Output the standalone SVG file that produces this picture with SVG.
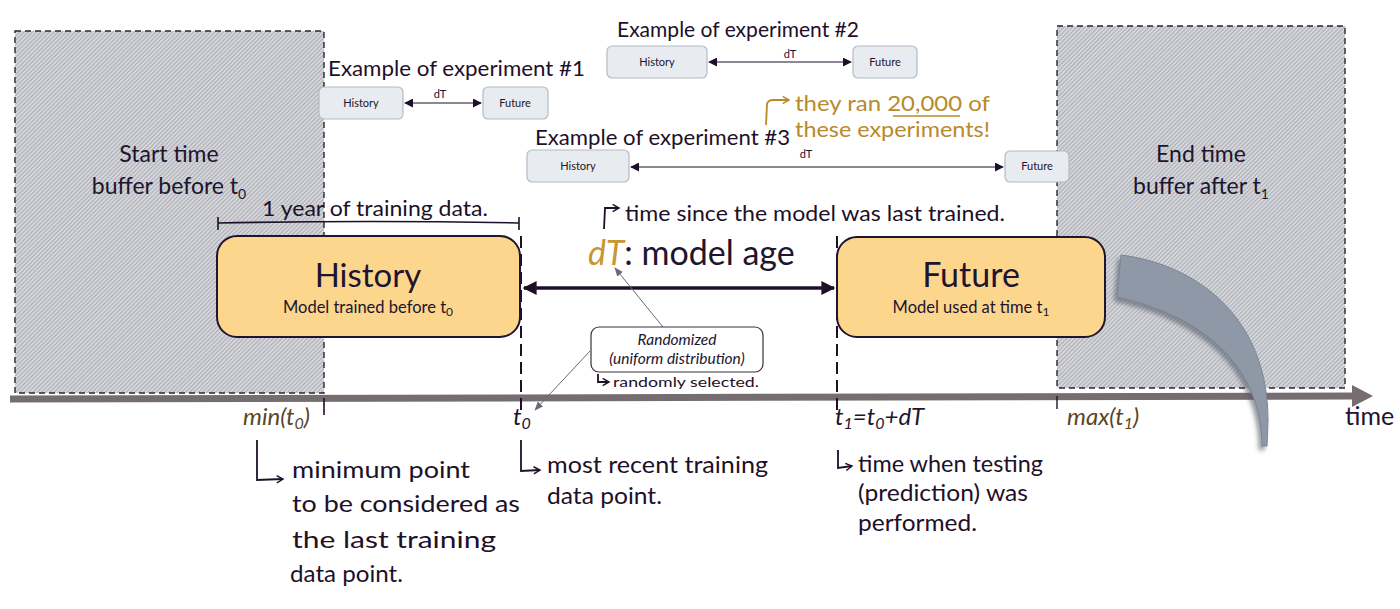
<svg xmlns="http://www.w3.org/2000/svg" width="1400" height="609" viewBox="0 0 1400 609">
<defs>
<pattern id="hatch" width="3" height="3" patternUnits="userSpaceOnUse" patternTransform="rotate(45)">
<rect width="3" height="3" fill="#d9dbdf"/>
<line x1="0.7" y1="0" x2="0.7" y2="3" stroke="#a2a4ac" stroke-width="1"/>
</pattern>
<marker id="ah" viewBox="0 0 10 10" refX="9" refY="5" markerWidth="9" markerHeight="9" markerUnits="userSpaceOnUse" orient="auto-start-reverse">
<path d="M0,0 L10,5 L0,10 Z" fill="#1e1028"/>
</marker>
<marker id="ahBig" viewBox="0 0 10 10" refX="9" refY="5" markerWidth="16" markerHeight="14" markerUnits="userSpaceOnUse" orient="auto-start-reverse">
<path d="M0,0 L10,5 L0,10 Z" fill="#1e1028"/>
</marker>
<marker id="ahThin" viewBox="0 0 10 10" refX="9" refY="5" markerWidth="9" markerHeight="9" markerUnits="userSpaceOnUse" orient="auto">
<path d="M0,1 L10,5 L0,9 Z" fill="#6a6a78"/>
</marker>
<marker id="hookA" viewBox="0 0 10 10" refX="8" refY="5" markerWidth="9" markerHeight="9" markerUnits="userSpaceOnUse" orient="auto">
<path d="M1,1 L8,5 L1,9" fill="none" stroke="#1e1028" stroke-width="1.6"/>
</marker>
<marker id="hookG" viewBox="0 0 10 10" refX="8" refY="5" markerWidth="9" markerHeight="9" markerUnits="userSpaceOnUse" orient="auto">
<path d="M1,1 L8,5 L1,9" fill="none" stroke="#b88a2c" stroke-width="1.6"/>
</marker>
<filter id="shadow" x="-20%" y="-20%" width="140%" height="140%">
<feDropShadow dx="-3" dy="4" stdDeviation="2" flood-color="#555a66" flood-opacity="0.6"/>
</filter>
</defs>
<style>
.buf{fill:url(#hatch);stroke:#2a2530;stroke-width:1.4;stroke-dasharray:6 4}
.big{fill:#fdd68d;stroke:#21142e;stroke-width:2}
.small{fill:#e8ebef;stroke:#b4bcc8;stroke-width:1.2}
.t{font-family:Lato,"Open Sans",sans-serif;fill:#21142e}
.hw{font-family:Lato,"Open Sans",sans-serif;fill:#1e1028}
.gold{font-family:Lato,"Open Sans",sans-serif;fill:#b88a2c}
.dash{stroke:#1e1028;stroke-width:2;stroke-dasharray:12 6;fill:none}
.hook{stroke:#1e1028;stroke-width:1.8;fill:none}
.thin{stroke:#1e1028;stroke-width:1.2;fill:none}
</style>

<g id="buffer-start">
<rect class="buf" x="15" y="31" width="309" height="362"/>
<text class="t" x="169" y="162" font-size="23" text-anchor="middle">Start time</text>
<text class="t" x="169" y="194" font-size="23" text-anchor="middle">buffer before t<tspan font-size="14" dy="5">0</tspan></text>
</g>
<g id="buffer-end">
<rect class="buf" x="1057" y="26" width="288" height="362"/>
<text class="t" x="1201" y="162" font-size="23" text-anchor="middle">End time</text>
<text class="t" x="1201" y="194" font-size="23" text-anchor="middle">buffer after t<tspan font-size="14" dy="5">1</tspan></text>
</g>

<g id="timeline">
<line x1="10" y1="399" x2="1354" y2="396" stroke="#766d71" stroke-width="7"/>
<polygon points="1352,385 1373,396 1352,407" fill="#766d71"/>
<text class="t" x="1345" y="425" font-size="25">time</text>
</g>

<g id="curved-arrow">
<path d="M1121,255 C1200,265 1268,320 1268,420 L1267,446 L1262,446 C1262,380 1220,320 1117,297 Z" fill="#8e98a6" stroke="#7b8494" stroke-width="1" filter="url(#shadow)"/>
</g>

<g id="connectors">
<line class="dash" x1="521" y1="236" x2="521" y2="410"/>
<line class="dash" x1="837" y1="236" x2="837" y2="412"/>
<line x1="324" y1="398" x2="324" y2="415" stroke="#1e1028" stroke-width="1.6"/>
<line x1="1057" y1="396" x2="1057" y2="409" stroke="#1e1028" stroke-width="1.4"/>
<line x1="524" y1="288" x2="834" y2="288" stroke="#1e1028" stroke-width="3.5" marker-start="url(#ahBig)" marker-end="url(#ahBig)"/>
<line x1="663" y1="327" x2="615" y2="268" stroke="#6a6a78" stroke-width="1" marker-end="url(#ahThin)"/>
<line x1="590" y1="351" x2="535" y2="410" stroke="#6a6a78" stroke-width="1" marker-end="url(#ahThin)"/>
<line class="thin" x1="405" y1="103" x2="481" y2="103" marker-start="url(#ah)" marker-end="url(#ah)"/>
<line class="thin" x1="709" y1="62" x2="851" y2="62" marker-start="url(#ah)" marker-end="url(#ah)"/>
<line class="thin" x1="631" y1="167" x2="1003" y2="167" marker-start="url(#ah)" marker-end="url(#ah)"/>
<path d="M218,223 Q370,220 519,223" stroke="#1e1028" stroke-width="1.6" fill="none"/>
<line x1="218" y1="217" x2="218" y2="230" stroke="#1e1028" stroke-width="1.6"/>
<line x1="519" y1="217" x2="519" y2="230" stroke="#1e1028" stroke-width="1.6"/>
<path class="hook" d="M604,229 L605,208 L619,208" marker-end="url(#hookA)"/>
<path class="hook" d="M598,374 L598,382 L609,382" stroke-width="1.4" marker-end="url(#hookA)"/>
<path class="hook" d="M257,440 L257,480 L283,479" marker-end="url(#hookA)"/>
<path class="hook" d="M521,440 L521,471 L540,470" marker-end="url(#hookA)"/>
<path class="hook" d="M838,450 L838,468 L852,466" marker-end="url(#hookA)"/>
<path d="M766,125 L767,104 Q768,100 773,100 L789,100" stroke="#b88a2c" stroke-width="1.8" fill="none" marker-end="url(#hookG)"/>
</g>

<g id="history">
<rect class="big" x="217" y="236" width="303" height="101" rx="20"/>
<text class="t" x="368" y="287" font-size="33" text-anchor="middle">History</text>
<text class="t" x="368" y="313" font-size="16.5" text-anchor="middle">Model trained before t<tspan font-size="12" dy="3">0</tspan></text>
</g>
<g id="future">
<rect class="big" x="837" y="237" width="268" height="100" rx="20"/>
<text class="t" x="971" y="287" font-size="34" text-anchor="middle">Future</text>
<text class="t" x="971" y="313" font-size="16.5" text-anchor="middle">Model used at time t<tspan font-size="12" dy="3">1</tspan></text>
</g>

<g id="model-age">
<text class="t" x="588" y="265" font-size="34"><tspan font-style="italic" fill="#c9962f">dT</tspan>: model age</text>
<text class="hw" x="625" y="221" font-size="21" textLength="380" lengthAdjust="spacingAndGlyphs">time since the model was last trained.</text>
</g>

<g id="randomized">
<rect x="591" y="327" width="172" height="45" rx="8" fill="#ffffff" stroke="#3a3040" stroke-width="1.2"/>
<text class="t" x="677" y="345" font-size="15.5" font-style="italic" text-anchor="middle">Randomized</text>
<text class="t" x="677" y="364" font-size="15.5" font-style="italic" text-anchor="middle">(uniform distribution)</text>
<text class="hw" x="613" y="387" font-size="13" textLength="146" lengthAdjust="spacingAndGlyphs">randomly selected.</text>
</g>

<g id="axis-labels">
<text class="t" x="243" y="425" font-size="24" font-style="italic" style="fill:#5a4628">min(t<tspan font-size="16" dy="4">0</tspan><tspan dy="-4">)</tspan></text>
<text class="t" x="513" y="425" font-size="24" font-style="italic">t<tspan font-size="16" dy="4">0</tspan></text>
<text class="t" x="835" y="425" font-size="24" font-style="italic">t<tspan font-size="16" dy="4">1</tspan><tspan dy="-4">=t</tspan><tspan font-size="16" dy="4">0</tspan><tspan dy="-4">+dT</tspan></text>
<text class="t" x="1067" y="425" font-size="24" font-style="italic" style="fill:#5a4628">max(t<tspan font-size="16" dy="4">1</tspan><tspan dy="-4">)</tspan></text>
</g>

<g id="training-span">
<text class="hw" x="262" y="216" font-size="21" textLength="226" lengthAdjust="spacingAndGlyphs">1 year of training data.</text>
</g>

<g id="note-min">
<text class="hw" x="292" y="478" font-size="23" textLength="178" lengthAdjust="spacingAndGlyphs">minimum point</text>
<text class="hw" x="292" y="512" font-size="23" textLength="228" lengthAdjust="spacingAndGlyphs">to be considered as</text>
<text class="hw" x="292" y="548" font-size="23" textLength="204" lengthAdjust="spacingAndGlyphs">the last training</text>
<text class="hw" x="290" y="582" font-size="23" textLength="113" lengthAdjust="spacingAndGlyphs">data point.</text>
</g>
<g id="note-t0">
<text class="hw" x="547" y="473" font-size="23" textLength="221" lengthAdjust="spacingAndGlyphs">most recent training</text>
<text class="hw" x="547" y="504" font-size="23" textLength="115" lengthAdjust="spacingAndGlyphs">data point.</text>
</g>
<g id="note-t1">
<text class="hw" x="858" y="472" font-size="23" textLength="185" lengthAdjust="spacingAndGlyphs">time when testing</text>
<text class="hw" x="858" y="501" font-size="23" textLength="170" lengthAdjust="spacingAndGlyphs">(prediction) was</text>
<text class="hw" x="858" y="531" font-size="23" textLength="119" lengthAdjust="spacingAndGlyphs">performed.</text>
</g>

<g id="experiment-1">
<text class="hw" x="328" y="76" font-size="21" textLength="257" lengthAdjust="spacingAndGlyphs">Example of experiment #1</text>
<rect class="small" x="319" y="87" width="84" height="32" rx="5"/>
<text class="t" x="361" y="107" font-size="11" text-anchor="middle">History</text>
<text class="t" x="440" y="98" font-size="11" text-anchor="middle">dT</text>
<rect class="small" x="483" y="87" width="65" height="32" rx="5"/>
<text class="t" x="515" y="107" font-size="11" text-anchor="middle">Future</text>
</g>
<g id="experiment-2">
<text class="hw" x="617" y="37" font-size="21" textLength="242" lengthAdjust="spacingAndGlyphs">Example of experiment #2</text>
<rect class="small" x="607" y="46" width="100" height="32" rx="5"/>
<text class="t" x="657" y="66" font-size="11" text-anchor="middle">History</text>
<text class="t" x="790" y="58" font-size="11" text-anchor="middle">dT</text>
<rect class="small" x="853" y="46" width="64" height="32" rx="5"/>
<text class="t" x="885" y="66" font-size="11" text-anchor="middle">Future</text>
</g>
<g id="experiment-3">
<text class="hw" x="535" y="145" font-size="21" textLength="255" lengthAdjust="spacingAndGlyphs">Example of experiment #3</text>
<rect class="small" x="527" y="150" width="102" height="32" rx="5"/>
<text class="t" x="578" y="170" font-size="11" text-anchor="middle">History</text>
<text class="t" x="806" y="158" font-size="11" text-anchor="middle">dT</text>
<rect class="small" x="1005" y="151" width="64" height="31" rx="5"/>
<text class="t" x="1037" y="170" font-size="11" text-anchor="middle">Future</text>
</g>
<g id="note-20000">
<text class="gold" x="795" y="111" font-size="21" textLength="195" lengthAdjust="spacingAndGlyphs">they ran 20,000 of</text>
<line x1="893" y1="116" x2="960" y2="116" stroke="#b88a2c" stroke-width="1.6"/>
<text class="gold" x="795" y="137" font-size="21" textLength="195" lengthAdjust="spacingAndGlyphs">these experiments!</text>
</g>
</svg>
